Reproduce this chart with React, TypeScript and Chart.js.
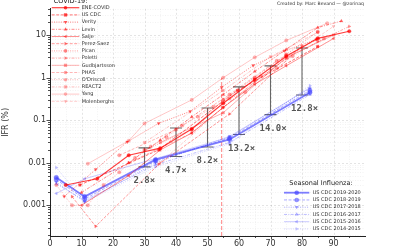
import React, { useEffect, useRef } from "react";
import { Chart, registerables } from "chart.js";
Chart.register(...registerables);

// ---- axes ----
const xMin = 0;
const xMax = 100;
const yMin = 0.00019;
const yMax = 41.5;
const xTickValues = [0, 10, 20, 30, 40, 50, 60, 70, 80, 90];
const xMinorTickValues = [5, 15, 25, 35, 45, 55, 65, 75, 85, 95];
const yTickValues = [0.001, 0.01, 0.1, 1, 10];
const yTickLabels = ["0.001", "0.01", "0.1", "1", "10"];

// ---- COVID-19 studies ----
const eneX = [5, 15, 25, 35, 45, 55, 65, 75, 85, 95];
const eneY = [0.003, 0.0042, 0.015, 0.022, 0.062, 0.25, 0.9, 3.2, 8.4, 12.3];
const cdcX = [9.5, 34.5, 59.5, 85];
const cdcY = [0.003, 0.02, 0.5, 5.4];
const verityX = [4.5, 14.5, 24.5, 34.5, 44.5, 54.5, 64.5, 74.5, 84.5];
const verityY = [0.00161, 0.00695, 0.0309, 0.0844, 0.161, 0.595, 1.93, 4.28, 7.8];
const levinX = [10, 25, 35, 45, 55, 65, 75, 85, 92.5];
const levinY = [0.002, 0.01, 0.034, 0.12, 0.4, 1.4, 4.6, 15, 21.4];
const saljeX = [10, 25, 35, 45, 55, 65, 75, 90];
const saljeY = [0.001, 0.005, 0.02, 0.05, 0.2, 0.7, 1.9, 8.3];
const perezX = [7, 14.5, 34.5, 57, 80];
const perezY = [0.0016, 0.00032, 0.0092, 0.14, 5.6];
const picanX = [30, 45, 55, 65, 75, 85];
const picanY = [0.02, 0.06, 0.3, 1.0, 3.5, 12];
const polettiX = [25, 45, 55, 65, 75, 85, 95];
const polettiY = [0.01, 0.05, 0.2, 0.8, 2.8, 7, 16];
const gudX = [35, 55, 75, 90];
const gudY = [0.03, 0.15, 3, 10];
const phasX = [22, 40, 57, 72, 85];
const phasY = [0.015, 0.06, 0.4, 2.5, 8];
const odrX = [2, 7, 12, 17, 22, 27, 32, 37, 42, 47, 52, 57, 62, 67, 72, 77, 87];
const odrY = [0.003, 0.001, 0.001, 0.003, 0.006, 0.013, 0.024, 0.04, 0.075, 0.121, 0.207, 0.323, 0.456, 1.075, 1.674, 3.203, 8.292];
const reactX = [30, 55, 70, 85];
const reactY = [0.03, 0.5, 3.1, 11.6];
const yangX = [12, 25, 30, 45, 55, 65, 75, 88];
const yangY = [0.0095, 0.033, 0.084, 0.3, 1.0, 3.0, 7.5, 19];
const molX = [35, 55, 70, 80, 90];
const molY = [0.01, 0.2, 1.5, 5, 16];

const covidNames = ["ENE-COVID", "US CDC", "Verity", "Levin", "Salje", "Perez-Saez", "Pican", "Poletti", "Gudbjartsson", "PHAS", "O'Driscoll", "REACT2", "Yang", "Molenberghs"];
const covidXs = [eneX, cdcX, verityX, levinX, saljeX, perezX, picanX, polettiX, gudX, phasX, odrX, reactX, yangX, molX];
const covidYs = [eneY, cdcY, verityY, levinY, saljeY, perezY, picanY, polettiY, gudY, phasY, odrY, reactY, yangY, molY];
const covidDash = ["solid", "dashed", "dotted", "dashdot", "solid", "dashed", "dotted", "dashdot", "solid", "dashed", "dotted", "dashdot", "solid", "dashed"];
const covidMarker = ["circle", "rect", "tdown", "tup", "tleft", "tright", "circle", "tright", "rect", "circle", "circle", "rect", "circle", "tdown"];
const covidAlpha = [0.75, 0.7, 0.62, 0.58, 0.54, 0.5, 0.46, 0.42, 0.39, 0.36, 0.33, 0.3, 0.28, 0.25];

// ---- Seasonal influenza ----
const fluX = [2, 11, 33.5, 57, 82.5];
const flu1920 = [0.0045, 0.0016, 0.0118, 0.0353, 0.45];
const flu1819 = [0.004, 0.0014, 0.011, 0.038, 0.5];
const flu1718 = [0.0035, 0.0012, 0.01, 0.042, 0.55];
const flu1617 = [0.0032, 0.0013, 0.009, 0.03, 0.4];
const flu1516 = [0.0019, 0.0042, 0.0125, 0.04, 0.58];
const flu1415 = [0.0077, 0.0012, 0.008, 0.028, 0.65];
const fluNames = ["US CDC 2019-2020", "US CDC 2018-2019", "US CDC 2017-2018", "US CDC 2016-2017", "US CDC 2015-2016", "US CDC 2014-2015"];
const fluYs = [flu1920, flu1819, flu1718, flu1617, flu1516, flu1415];
const fluDash = ["solid", "dashed", "dotted", "dashdot", "solid", "dotted"];
const fluMarker = ["circle", "circle", "tdown", "tup", "tleft", "tright"];
const fluAlpha = [0.7, 0.58, 0.5, 0.44, 0.36, 0.3];

// ---- ratio bars ----
const barX = [30, 40, 50, 60, 70, 80];
const barLow = [0.008, 0.014, 0.0235, 0.046, 0.135, 0.39];
const barHigh = [0.0224, 0.0658, 0.193, 0.607, 1.89, 4.99];
const barLabels = ["2.8×", "4.7×", "8.2×", "13.2×", "14.0×", "12.8×"];

// ---- vertical marker ----
const vLineX = [54.5, 54.5];
const vLineY = [yMin, 1.0];

const red = (a: number) => `rgba(255,0,0,${a})`;
const blue = (a: number) => `rgba(70,70,255,${a})`;

function dashOf(s: string): number[] {
  if (s === "dashed") return [3, 1.5];
  if (s === "dotted") return [1, 1.3];
  if (s === "dashdot") return [3, 1.3, 1, 1.3];
  return [];
}
function styleOf(m: string): { style: any; rot: number } {
  if (m === "rect") return { style: "rect", rot: 0 };
  if (m === "tdown") return { style: "triangle", rot: 180 };
  if (m === "tup") return { style: "triangle", rot: 0 };
  if (m === "tleft") return { style: "triangle", rot: 270 };
  if (m === "tright") return { style: "triangle", rot: 90 };
  return { style: "circle", rot: 0 };
}

function drawMarker(ctx: CanvasRenderingContext2D, m: string, x: number, y: number, r: number, color: string) {
  ctx.save();
  ctx.fillStyle = color;
  ctx.strokeStyle = color;
  ctx.setLineDash([]);
  ctx.beginPath();
  const st = styleOf(m);
  if (st.style === "circle") {
    ctx.arc(x, y, r, 0, Math.PI * 2);
  } else if (st.style === "rect") {
    ctx.rect(x - r * 0.9, y - r * 0.9, r * 1.8, r * 1.8);
  } else {
    const rad = (st.rot * Math.PI) / 180;
    for (let i = 0; i < 3; i++) {
      const a = rad + (i * 2 * Math.PI) / 3;
      const px = x + Math.sin(a) * r * 1.2;
      const py = y - Math.cos(a) * r * 1.2;
      if (i === 0) ctx.moveTo(px, py);
      else ctx.lineTo(px, py);
    }
    ctx.closePath();
  }
  ctx.fill();
  ctx.restore();
}

const gridPlugin = {
  id: "customGrid",
  beforeDatasetsDraw(chart: any) {
    const { ctx, chartArea: a, scales } = chart;
    const xs = scales.x;
    const ys = scales.y;
    ctx.save();
    ctx.lineWidth = 0.6;
    ctx.setLineDash([1, 1.5]);
    ctx.strokeStyle = "rgba(0,0,0,0.09)";
    for (let e = -4; e <= 1; e++) {
      for (let k = 2; k <= 9; k++) {
        const v = k * Math.pow(10, e);
        if (v < yMin || v > yMax) continue;
        const py = Math.round(ys.getPixelForValue(v)) + 0.5;
        ctx.beginPath();
        ctx.moveTo(a.left, py);
        ctx.lineTo(a.right, py);
        ctx.stroke();
      }
    }
    for (const v of xMinorTickValues) {
      const px = Math.round(xs.getPixelForValue(v)) + 0.5;
      ctx.beginPath();
      ctx.moveTo(px, a.top);
      ctx.lineTo(px, a.bottom);
      ctx.stroke();
    }
    ctx.setLineDash([2, 2]);
    ctx.strokeStyle = "rgba(0,0,0,0.18)";
    for (const v of yTickValues) {
      const py = Math.round(ys.getPixelForValue(v)) + 0.5;
      ctx.beginPath();
      ctx.moveTo(a.left, py);
      ctx.lineTo(a.right, py);
      ctx.stroke();
    }
    for (const v of xTickValues) {
      if (v === xMin) continue;
      const px = Math.round(xs.getPixelForValue(v)) + 0.5;
      ctx.beginPath();
      ctx.moveTo(px, a.top);
      ctx.lineTo(px, a.bottom);
      ctx.stroke();
    }
    ctx.restore();
  },
  afterDraw(chart: any) {
    const { ctx, chartArea: a, scales } = chart;
    const xs = scales.x;
    const ys = scales.y;
    ctx.save();
    ctx.strokeStyle = "#222";
    ctx.lineWidth = 0.8;
    ctx.setLineDash([]);
    for (const v of yTickValues) {
      const py = Math.round(ys.getPixelForValue(v)) + 0.5;
      ctx.beginPath();
      ctx.moveTo(a.left - 3.5, py);
      ctx.lineTo(a.left, py);
      ctx.stroke();
    }
    for (let e = -4; e <= 1; e++) {
      for (let k = 2; k <= 9; k++) {
        const v = k * Math.pow(10, e);
        if (v < yMin || v > yMax) continue;
        const py = Math.round(ys.getPixelForValue(v)) + 0.5;
        ctx.beginPath();
        ctx.moveTo(a.left - 2, py);
        ctx.lineTo(a.left, py);
        ctx.stroke();
      }
    }
    for (const v of xTickValues) {
      const px = Math.round(xs.getPixelForValue(v)) + 0.5;
      ctx.beginPath();
      ctx.moveTo(px, a.bottom);
      ctx.lineTo(px, a.bottom + 3.5);
      ctx.stroke();
    }
    for (const v of xMinorTickValues) {
      const px = Math.round(xs.getPixelForValue(v)) + 0.5;
      ctx.beginPath();
      ctx.moveTo(px, a.bottom);
      ctx.lineTo(px, a.bottom + 2);
      ctx.stroke();
    }

    ctx.fillStyle = "#555";
    ctx.font = 'bold 9px "DejaVu Sans Mono"';
    ctx.textAlign = "left";
    ctx.textBaseline = "middle";
    barX.forEach((bx, i) => {
      const px = xs.getPixelForValue(bx);
      const py = ys.getPixelForValue(barLow[i]);
      ctx.fillText(barLabels[i], px - 11, py + 14);
    });

    ctx.fillStyle = "#333";
    ctx.font = '4.6px "DejaVu Sans"';
    ctx.textAlign = "right";
    ctx.fillText("Created by: Marc Bevand — @zorinaq", 364, 3.5);

    ctx.textAlign = "center";
    ctx.textBaseline = "alphabetic";
    ctx.font = '6.5px "DejaVu Sans"';
    ctx.fillStyle = "#222";
    ctx.fillText("COVID-19:", 70.5, 2.8);
    ctx.textAlign = "left";
    ctx.textBaseline = "middle";
    ctx.font = '5px "DejaVu Sans"';
    covidNames.forEach((n, i) => {
      const y = 7.7 + i * 7.2;
      const c = red(covidAlpha[i]);
      ctx.save();
      ctx.strokeStyle = c;
      ctx.lineWidth = i === 0 ? 1.2 : 0.8;
      ctx.setLineDash(dashOf(covidDash[i]));
      ctx.beginPath();
      ctx.moveTo(51.7, y);
      ctx.lineTo(79.3, y);
      ctx.stroke();
      ctx.restore();
      drawMarker(ctx, covidMarker[i], 65.5, y, 1.8, c);
      ctx.fillStyle = "#333";
      ctx.fillText(n, 81.7, y);
    });

    ctx.textAlign = "center";
    ctx.font = '6.5px "DejaVu Sans"';
    ctx.fillStyle = "#222";
    ctx.fillText("Seasonal Influenza:", 321, 183.5);
    ctx.textAlign = "left";
    ctx.font = '5px "DejaVu Sans"';
    fluNames.forEach((n, i) => {
      const y = 192.7 + i * 7.25;
      const c = blue(fluAlpha[i]);
      ctx.save();
      ctx.strokeStyle = c;
      ctx.lineWidth = i === 0 ? 1.8 : 0.8;
      ctx.setLineDash(dashOf(fluDash[i]));
      ctx.beginPath();
      ctx.moveTo(284, y);
      ctx.lineTo(309.3, y);
      ctx.stroke();
      ctx.restore();
      drawMarker(ctx, fluMarker[i], 296.7, y, i < 2 ? 2.3 : 1.8, c);
      ctx.fillStyle = "#333";
      ctx.fillText(n, 312.7, y);
    });
    ctx.restore();
  },
};

function buildDatasets() {
  const ds: any[] = [];
  covidNames.forEach((n, i) => {
    const c = red(covidAlpha[i]);
    const st = styleOf(covidMarker[i]);
    ds.push({
      label: n,
      data: covidXs[i].map((x, j) => ({ x, y: covidYs[i][j] })),
      borderColor: c,
      backgroundColor: c,
      borderWidth: i === 0 ? 1.2 : 0.8,
      borderDash: dashOf(covidDash[i]),
      pointStyle: st.style,
      rotation: st.rot,
      pointRadius: 1.8,
      pointBorderWidth: 0.3,
      pointBackgroundColor: c,
      pointBorderColor: c,
      tension: 0,
    });
  });
  fluNames.forEach((n, i) => {
    const c = blue(fluAlpha[i]);
    const st = styleOf(fluMarker[i]);
    ds.push({
      label: n,
      data: fluX.map((x, j) => ({ x, y: fluYs[i][j] })),
      borderColor: c,
      backgroundColor: c,
      borderWidth: i === 0 ? 1.8 : 0.8,
      borderDash: dashOf(fluDash[i]),
      pointStyle: st.style,
      rotation: st.rot,
      pointRadius: i < 2 ? 2.3 : 1.8,
      pointBorderWidth: 0.3,
      pointBackgroundColor: c,
      pointBorderColor: c,
      tension: 0,
    });
  });
  ds.push({
    label: "vline",
    data: vLineX.map((x, j) => ({ x, y: vLineY[j] })),
    borderColor: "rgba(255,0,0,0.55)",
    borderWidth: 0.9,
    borderDash: [4, 2],
    pointRadius: 0,
  });
  const barData: any[] = [];
  barX.forEach((x, i) => {
    barData.push({ x, y: barLow[i] });
    barData.push({ x, y: barHigh[i] });
    barData.push({ x, y: null });
  });
  ds.push({
    label: "bars",
    data: barData,
    borderColor: "#666",
    borderWidth: 1.1,
    pointStyle: "line",
    pointRadius: 6,
    pointBorderWidth: 1.1,
    pointBorderColor: "#666",
    spanGaps: false,
  });
  return ds;
}

export default function App() {
  const ref = useRef<HTMLCanvasElement>(null);
  useEffect(() => {
    if (!ref.current) return;
    const chart = new Chart(ref.current, {
      type: "line",
      data: { datasets: buildDatasets() },
      options: {
        responsive: false,
        maintainAspectRatio: false,
        animation: false,
        layout: { padding: { top: 0, right: 35, left: 0, bottom: 0 } },
        plugins: { legend: { display: false }, tooltip: { enabled: false } },
        scales: {
          x: {
            type: "linear",
            min: xMin,
            max: xMax,
            afterFit: (s: any) => {
              s.height = 14;
            },
            afterBuildTicks: (s: any) => {
              s.ticks = xTickValues.map((v) => ({ value: v }));
            },
            grid: { display: false, drawTicks: false },
            border: { display: true, color: "#222", width: 1 },
            ticks: {
              autoSkip: false,
              maxRotation: 0,
              padding: 3,
              color: "#333",
              font: { family: "DejaVu Sans", size: 8 },
              callback: (v: any) => String(v),
            },
          },
          y: {
            type: "logarithmic",
            min: yMin,
            max: yMax,
            afterFit: (s: any) => {
              s.width = 50;
            },
            afterBuildTicks: (s: any) => {
              s.ticks = yTickValues.map((v) => ({ value: v }));
            },
            grid: { display: false, drawTicks: false },
            border: { display: true, color: "#222", width: 1 },
            title: {
              display: true,
              text: "IFR (%)",
              color: "#333",
              font: { family: "DejaVu Sans", size: 8 },
              padding: { top: 1, bottom: 0 },
            },
            ticks: {
              autoSkip: false,
              padding: 4,
              color: "#333",
              font: { family: "DejaVu Sans", size: 8 },
              callback: (_v: any, i: number) => yTickLabels[i],
            },
          },
        },
      },
      plugins: [gridPlugin],
    });
    return () => chart.destroy();
  }, []);
  return (
    <div style={{ position: "absolute", left: 0, top: 0, width: 400, height: 250, background: "#fff" }}>
      <canvas ref={ref} width={400} height={250} style={{ width: 400, height: 250, display: "block" }} />
    </div>
  );
}
